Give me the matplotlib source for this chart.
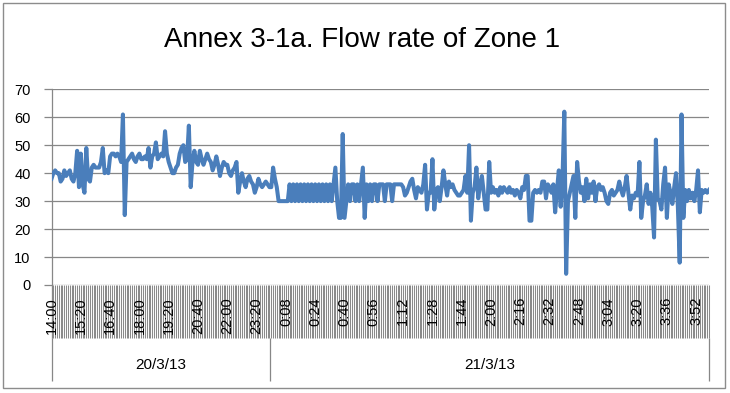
import matplotlib
matplotlib.use('Agg')
import matplotlib.pyplot as plt
from matplotlib.patches import Rectangle
import numpy as np

plt.rcParams['font.family'] = ['Liberation Sans', 'DejaVu Sans']

title = "Annex 3-1a. Flow rate of Zone 1"
dates = ["20/3/13", "21/3/13"]

# Day 1: 14:00 - 23:55, one reading every 5 minutes (120 readings)
day1_times = [f"{h}:{m:02d}" for h in range(14, 24) for m in range(0, 60, 5)]
# Day 2: 0:00 - 3:59, one reading every minute (240 readings)
day2_times = [f"{h}:{m:02d}" for h in range(0, 4) for m in range(0, 60)]

day1_flow = [
    38, 40, 41, 40, 40, 37, 38, 41, 39, 40,
    41, 38, 37, 40, 48, 35, 47, 36, 33, 49,
    38, 37, 42, 43, 42, 42, 42, 44, 49, 40,
    41, 40, 46, 47, 47, 46, 47, 46, 44, 61,
    25, 44, 45, 46, 47, 45, 44, 46, 47, 45,
    45, 46, 45, 49, 42, 46, 47, 51, 45, 46,
    47, 46, 55, 47, 44, 42, 40, 40, 42, 43,
    47, 49, 50, 44, 45, 57, 35, 44, 48, 44,
    43, 48, 45, 43, 45, 47, 45, 44, 41, 43,
    46, 43, 39, 42, 44, 43, 43, 40, 39, 41,
    42, 44, 33, 37, 40, 37, 35, 38, 39, 37,
    36, 33, 35, 38, 36, 35, 36, 37, 36, 35,
]

day2_flow = [
    35, 42, 38, 35, 30, 30, 30, 30, 30, 30,
    36, 30, 36, 30, 36, 30, 36, 30, 36, 30,
    36, 30, 36, 30, 36, 30, 36, 30, 36, 30,
    36, 30, 36, 30, 36, 42, 30, 24, 24, 54,
    24, 30, 36, 30, 36, 36, 30, 36, 30, 36,
    42, 24, 36, 30, 36, 30, 36, 36, 30, 36,
    36, 36, 30, 36, 36, 36, 30, 36, 36, 36,
    36, 36, 35, 32, 33, 35, 37, 38, 34, 31,
    35, 34, 33, 36, 43, 27, 33, 33, 45, 27,
    34, 35, 30, 35, 41, 36, 32, 37, 35, 36,
    34, 33, 32, 32, 33, 34, 39, 33, 50, 23,
    33, 35, 42, 31, 36, 39, 33, 27, 27, 44,
    33, 35, 33, 34, 32, 35, 33, 35, 34, 33,
    35, 33, 34, 32, 34, 33, 31, 35, 34, 39,
    39, 23, 23, 33, 34, 33, 34, 33, 37, 37,
    31, 36, 35, 33, 36, 26, 34, 41, 28, 38,
    62, 4, 30, 33, 36, 39, 24, 44, 37, 33,
    35, 30, 38, 31, 36, 33, 37, 30, 35, 36,
    34, 35, 33, 30, 29, 33, 34, 32, 33, 34,
    37, 34, 32, 35, 39, 33, 27, 32, 31, 33,
    32, 44, 24, 30, 32, 36, 29, 33, 28, 17,
    52, 31, 30, 27, 36, 42, 24, 36, 33, 29,
    35, 40, 28, 8, 61, 24, 34, 30, 34, 31,
    33, 30, 34, 41, 26, 34, 33, 34, 33, 34,
]

categories = day1_times + day2_times
flow = day1_flow + day2_flow
label_step = 16

W, H = 730, 393
fig = plt.figure(figsize=(W / 100, H / 100), dpi=100)
fig.patch.set_facecolor('white')

x0, x1 = 51.5, 709.0
y_top, y_bot = 89.3, 285.0
ax = fig.add_axes([x0 / W, 1 - y_bot / H, (x1 - x0) / W, (y_bot - y_top) / H])

x = np.arange(len(flow))
ax.plot(x, flow, color='#4a7ebb', lw=2.9, solid_joinstyle='round', zorder=3)
n = len(flow)
ax.set_xlim(0, n - 1)
ax.set_ylim(0, 70)
ax.set_yticks(range(0, 71, 10))
ax.yaxis.grid(True, color='#878787', lw=0.9)
ax.set_axisbelow(True)
for s in ['top', 'right', 'bottom']:
    ax.spines[s].set_visible(False)
ax.spines['left'].set_color('#878787')
ax.spines['left'].set_linewidth(0.9)
ax.set_xticks([])
ax.tick_params(axis='y', length=6, width=0.9, color='#878787',
               labelsize=10.5, pad=9)

ph = y_bot - y_top
def ay(py):
    return (y_bot - py) / ph

trans = ax.get_xaxis_transform()
# dense category tick marks
ax.vlines(x, ay(338), 0, transform=trans, colors='#8a8a8a', lw=0.75,
          clip_on=False, zorder=1)
# time labels
for i in range(0, n, label_step):
    ax.text(i, ay(297), categories[i], transform=trans, rotation=90,
            ha='center', va='top', fontsize=10.5, clip_on=False, zorder=4)

# date level
bounds = [0, len(day1_flow) - 0.5, n - 1]
ax.vlines(bounds, ay(381), ay(338), transform=trans, colors='#878787',
          lw=0.9, clip_on=False)
ax.vlines([0], ay(338), 0, transform=trans, colors='#878787', lw=0.9,
          clip_on=False)
for k, d in enumerate(dates):
    cx = (bounds[k] + bounds[k + 1]) / 2
    ax.text(cx, ay(365), d, transform=trans, ha='center', va='center',
            fontsize=11, clip_on=False)

fig.text(362 / W, 1 - 40 / H, title, ha='center', va='center', fontsize=20)

fig.patches.append(Rectangle((2.5 / W, 1 - 388 / H), (725 - 2.5) / W,
                             (388 - 2.5) / H, transform=fig.transFigure,
                             fill=False, ec='#8c8c8c', lw=1.0))

fig.savefig('out.png', dpi=100)
